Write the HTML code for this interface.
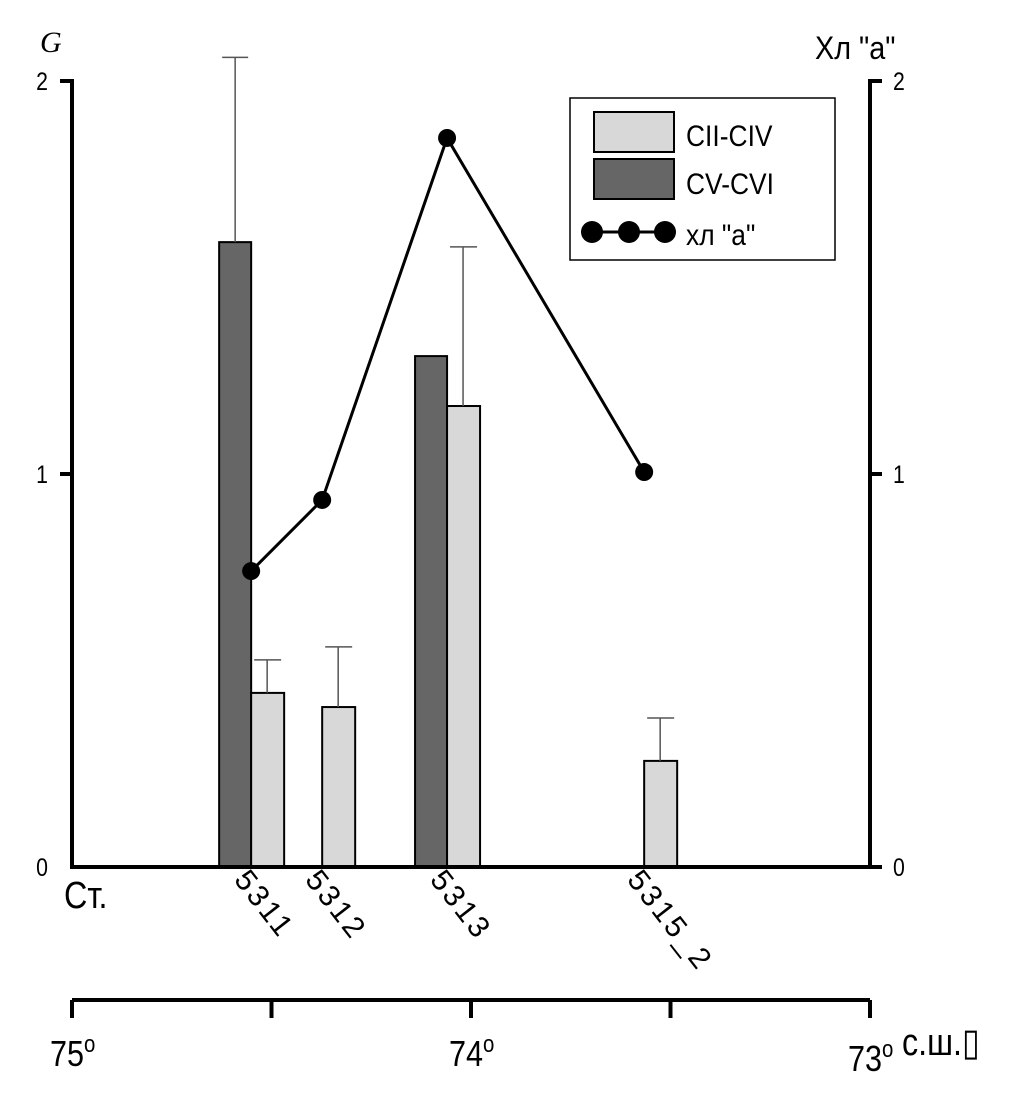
<!DOCTYPE html>
<html><head><meta charset="utf-8"><style>
body{margin:0;background:#fff;}
svg{display:block;font-family:"Liberation Sans",sans-serif;}
</style></head><body>
<svg id="c" width="1032" height="1101" viewBox="0 0 1032 1101" xmlns="http://www.w3.org/2000/svg">
<g id="g"></g>
</svg>
<script>
const stations=["5311","5312","5313","5315_2"];
const stationLat=[74.551,74.373,74.06,73.566];
const darkVals=[1.59,null,1.30,null];
const darkErr=[2.06,null,null,null];
const lightVals=[0.443,0.407,1.173,0.27];
const lightErr=[0.527,0.56,1.578,0.379];
const chlVals=[0.753,0.934,1.855,1.005];
const latTicks=[75,74.5,74,73.5,73];
const latLabels=["75","74","73"];
const latLabelVals=[75,74,73];
const yTicks=[0,1,2];

const NS="http://www.w3.org/2000/svg";
const g=document.getElementById('g');
const X=lat=>72+(75-lat)*399;
const Y=v=>867-v*393;
function el(t,a,p){const e=document.createElementNS(NS,t);for(const k in a)e.setAttribute(k,a[k]);(p||g).appendChild(e);return e;}
function txt(s,a){const e=el('text',a);e.textContent=s;return e;}

stations.forEach((s,i)=>{
  const c=X(stationLat[i]);
  if(darkVals[i]!=null){
    const r=el('rect',{x:c-32,y:Y(darkVals[i]),width:32,height:867-Y(darkVals[i]),fill:'#666',stroke:'#000','stroke-width':2});
    
    
    if(darkErr[i]!=null){
      const l=el('path',{d:`M${c-16},${Y(darkVals[i])}V${Y(darkErr[i])}M${c-29},${Y(darkErr[i])}H${c-3}`,stroke:'#555','stroke-width':1.5,fill:'none'});
      
      
    }
  }
  const r2=el('rect',{x:c,y:Y(lightVals[i]),width:33,height:867-Y(lightVals[i]),fill:'#d8d8d8',stroke:'#000','stroke-width':2});
  
  
  const l2=el('path',{d:`M${c+16},${Y(lightVals[i])}V${Y(lightErr[i])}M${c+3},${Y(lightErr[i])}H${c+30}`,stroke:'#555','stroke-width':1.5,fill:'none'});
  
  
  const t=txt(s,{x:0,y:0,'font-size':30,'letter-spacing':3,transform:`translate(${c-18},${880}) rotate(52)`});
  
  
});

const pts=stations.map((s,i)=>[X(stationLat[i]),Y(chlVals[i])]);
const pl=el('polyline',{points:pts.map(p=>p.join(',')).join(' '),fill:'none',stroke:'#000','stroke-width':3});


pts.forEach((p,i)=>{
  const d=el('circle',{cx:p[0],cy:p[1],r:9,fill:'#000'});
  
  
});

const ax=el('path',{d:'M60,81H72V867H870V81H882M870,867H882M60,474H72M870,474H882',stroke:'#000','stroke-width':4,fill:'none'});


yTicks.forEach(v=>{
  const a=txt(String(v),{x:0,y:0,'font-size':25,'text-anchor':'end',transform:`translate(48,${Y(v)+9}) scale(0.85,1)`});
  
  
  const b=txt(String(v),{x:0,y:0,'font-size':25,transform:`translate(893,${Y(v)+9}) scale(0.85,1)`});
  
  
});
const gl=txt('G',{x:40,y:52,'font-size':30,'font-style':'italic','font-family':'Liberation Serif, serif'});


const rl=txt('Хл "а"',{x:0,y:0,'font-size':32,transform:'translate(815,59) scale(0.9,1)'});


const st=txt('Ст.',{x:0,y:0,'font-size':38,transform:'translate(64,908) scale(0.85,1)'});



let d='M'+X(75)+',1000H'+X(73);
latTicks.forEach(l=>{d+=`M${X(l)},1000V1018`;});
const la=el('path',{d:d,stroke:'#000','stroke-width':4,fill:'none'});


latLabelVals.forEach((l,i)=>{
  const t=el('text',{x:0,y:0,'font-size':36,transform:`translate(${X(l)-22},${1066+(l===73?5:0)}) scale(0.85,1)`});
  t.innerHTML=latLabels[i]+'<tspan dy="-14" font-size="24">o</tspan>';
  
  
});
const sh=txt('с.ш.▯',{x:0,y:0,'font-size':38,transform:'translate(902,1055) scale(0.85,1)'});



const lg=el('g',{});


el('rect',{x:570,y:98,width:265,height:162,fill:'#fff',stroke:'#000','stroke-width':1.5},lg);
el('rect',{x:594,y:112,width:80,height:40,fill:'#d8d8d8',stroke:'#000','stroke-width':2},lg);
el('rect',{x:594,y:159,width:80,height:40,fill:'#666',stroke:'#000','stroke-width':2},lg);
el('line',{x1:592,y1:232,x2:665,y2:232,stroke:'#000','stroke-width':3},lg);
[592,629,665].forEach(x=>el('circle',{cx:x,cy:232,r:11,fill:'#000'},lg));
[['CII-CIV',144],['CV-CVI',192],['хл "а"',243]].forEach(([s,y])=>{const t=el('text',{x:0,y:0,'font-size':30,transform:`translate(686,${y+2}) scale(0.88,1)`},lg);t.textContent=s;});
</script>
</body></html>
